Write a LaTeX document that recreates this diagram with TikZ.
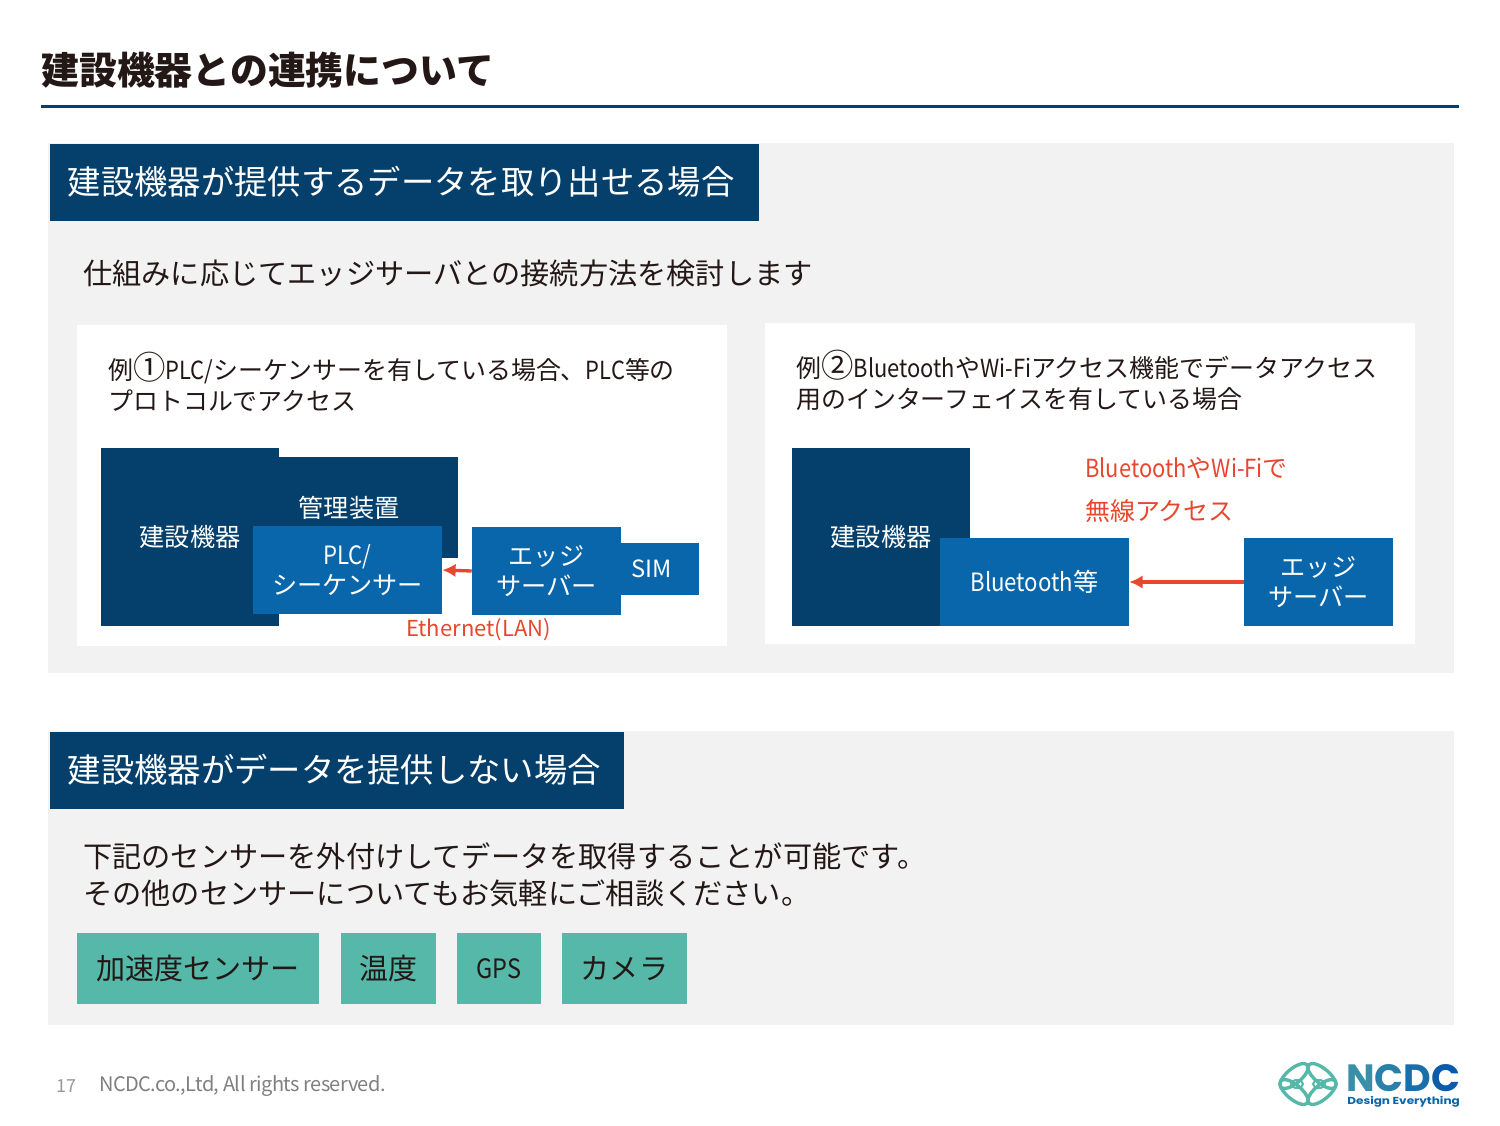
\documentclass[tikz,border=0pt]{standalone}
\usepackage{fontspec}
\usepackage{xcolor}
\setmainfont{Noto Sans CJK JP}
\newfontfamily\logofont{Poppins}
\newfontfamily\latfont{Noto Sans CJK JP}[FakeStretch=0.88]
\newfontfamily\circfont{Noto Sans CJK JP}[Scale=1.3]
\newfontfamily\footfont{Noto Sans CJK JP}[LetterSpace=-3]
\definecolor{navy}{HTML}{04406B}
\definecolor{midblue}{HTML}{0A66AB}
\definecolor{panelgray}{HTML}{F2F2F2}
\definecolor{teal}{HTML}{55B8A8}
\definecolor{alertred}{HTML}{E8472F}
\definecolor{inkdark}{HTML}{231815}
\usetikzlibrary{shapes.geometric,arrows.meta}
\tikzset{
  panel/.style={fill=panelgray,inner sep=0pt},
  card/.style={fill=white,inner sep=0pt,minimum width=487.5pt,minimum height=240.75pt},
  header/.style={fill=navy,text=white,inner sep=0pt,minimum height=57.75pt,font=\fontsize{25}{30}\selectfont},
  darkbox/.style={fill=navy,inner sep=0pt},
  boxlabel/.style={text=white,inner sep=0pt,font=\fontsize{18.9}{22}\selectfont},
  bluebox/.style={fill=midblue,text=white,inner sep=0pt,align=center,font=\fontsize{18.9}{22}\selectfont},
  sensorbox/.style={fill=teal,text=inkdark,inner sep=0pt,minimum height=53.25pt,font=\fontsize{21.8}{26}\selectfont},
  bodytext/.style={anchor=west,inner sep=0pt,align=left,text=inkdark,font=\fontsize{21.9}{27.75}\selectfont},
  smalltext/.style={anchor=west,inner sep=0pt,align=left,text=inkdark,font=\fontsize{18.7}{23.25}\selectfont},
  redtext/.style={anchor=west,inner sep=0pt,text=alertred,font=\fontsize{18.7}{22}\selectfont},
  redarrow/.style={-{Latex[length=10pt,width=10pt]},draw=alertred,line width=2.5pt},
  petal/.style={draw=teal,line width=2.5pt,ellipse,minimum width=26pt,minimum height=11pt,inner sep=0pt},
  seed/.style={draw=teal,line width=1.5pt,ellipse,minimum width=9pt,minimum height=6pt,inner sep=0pt},
}
\begin{document}
\begin{tikzpicture}[x={(0.75pt,0pt)}, y={(0pt,-0.75pt)}]
  \useasboundingbox[fill=white] (0,0) rectangle (1500,1125);

  % Title
  \node[anchor=west,inner sep=0pt,text=inkdark,font=\fontsize{28.4}{32}\bfseries\selectfont] (Title) at (41,70) {建設機器との連携について};
  \coordinate (RuleL) at (41,106);
  \coordinate (RuleR) at (1459,106);
  \draw[navy,line width=2.25pt] (RuleL) -- (RuleR);

  % Panels
  \node[panel,minimum width=1054.5pt,minimum height=397.5pt] (Panel1) at (751,408) {};
  \node[panel,minimum width=1054.5pt,minimum height=220.5pt] (Panel2) at (751,878) {};
  \node[header,minimum width=531.75pt] (Header1) at (404.5,182) {\hspace*{-5pt}建設機器が提供するデータを取り出せる場合};
  \node[header,minimum width=430.5pt] (Header2) at (337,770) {\hspace*{-4pt}建設機器がデータを提供しない場合};

  \node[bodytext] (Intro1) at (83,273) {仕組みに応じてエッジサーバとの接続方法を検討します};
  \node[card] (Card1) at (402,485.5) {};
  \node[card] (Card2) at (1090,483.5) {};

  % Example 1
  \node[smalltext] (Case1) at (108,382) {例{\circfont ①}{\latfont PLC/}シーケンサーを有している場合、{\latfont PLC}等の\\プロトコルでアクセス};
  \node[darkbox,minimum width=133.5pt,minimum height=133.5pt] (Device1) at (190,537) {};
  \node[darkbox,minimum width=134.25pt,minimum height=75.75pt] (Manager) at (368.5,507.5) {};
  \node[boxlabel] (ManagerLabel) at (349,507.5) {管理装置};
  \node[boxlabel] (Device1Label) at (190,536.5) {建設機器};
  \node[bluebox,minimum width=141.75pt,minimum height=66pt] (Plc) at (347.5,570) {{\latfont PLC/}\\シーケンサー};
  \node[bluebox,minimum width=58.5pt,minimum height=39pt] (Sim) at (660,569) {\hspace*{-12pt}{\fontsize{17.8}{22}\selectfont SIM}};
  \node[bluebox,minimum width=111.75pt,minimum height=66pt] (Edge1) at (546.5,571) {エッジ\\サーバー};
  \node[redtext,font=\fontsize{16.5}{22}\selectfont] (Lan) at (406,630) {Ethernet(LAN)};
  \draw[redarrow] (Edge1.180) -- (Plc.0);

  % Example 2
  \node[smalltext] (Case2) at (796,380) {例{\circfont ②}{\latfont Bluetooth}や{\latfont Wi-Fi}アクセス機能でデータアクセス\\用のインターフェイスを有している場合};
  \node[darkbox,minimum width=133.5pt,minimum height=133.5pt] (Device2) at (881,537) {};
  \node[boxlabel] (Device2Label) at (881,536.5) {建設機器};
  \node[bluebox,minimum width=141.75pt,minimum height=66pt] (Bluetooth) at (1034.5,582) {{\latfont Bluetooth}等};
  \node[bluebox,minimum width=111.75pt,minimum height=66pt] (Edge2) at (1318.5,582) {エッジ\\サーバー};
  \node[redtext] (Wireless1) at (1085,468) {{\latfont Bluetooth}や{\latfont Wi-Fi}で};
  \node[redtext] (Wireless2) at (1085,511) {無線アクセス};
  \draw[redarrow] (Edge2.180) -- (Bluetooth.0);

  % Sensors
  \node[bodytext] (Intro2) at (83,875) {下記のセンサーを外付けしてデータを取得することが可能です。\\その他のセンサーについてもお気軽にご相談ください。};
  \node[sensorbox,minimum width=181.5pt] (Sensor1) at (198,968.5) {加速度センサー};
  \node[sensorbox,minimum width=71.25pt] (Sensor2) at (388.5,968.5) {温度};
  \node[sensorbox,minimum width=63pt] (Sensor3) at (499,968.5) {{\latfont\fontsize{20}{26}\selectfont GPS}};
  \node[sensorbox,minimum width=93.75pt] (Sensor4) at (624.5,968.5) {カメラ};

  % Footer
  \node[anchor=west,inner sep=0pt,text=gray!80,font=\fontsize{13.5}{16}\selectfont] (Page) at (56,1086) {17};
  \node[anchor=west,inner sep=0pt,text=gray,font=\footfont\fontsize{15}{18}\selectfont] (Rights) at (99,1086) {NCDC.co.,Ltd, All rights reserved.};

  % Logo
  \node[petal,rotate=-40] (Petal1) at (1322,1076) {};
  \node[petal,rotate=40] (Petal2) at (1294,1076) {};
  \node[petal,rotate=40] (Petal3) at (1322,1092) {};
  \node[petal,rotate=-40] (Petal4) at (1294,1092) {};
  \node[seed] (Seed1) at (1297,1084) {};
  \node[seed] (Seed2) at (1319,1084) {};
  \node[anchor=base west,inner sep=0pt,text depth=0pt,font=\logofont\fontsize{28.5}{30}\bfseries\selectfont] (LogoName) at (1346,1091) {\textcolor[HTML]{3A8FA8}{N}\textcolor[HTML]{2A80A8}{C}\textcolor[HTML]{1A6FA8}{D}\textcolor[HTML]{0B5CA8}{C}};
  \node[anchor=base west,inner sep=0pt,text height=5.5pt,text depth=0pt,xscale=1.19,text=midblue,font=\logofont\fontsize{7.6}{9}\bfseries\selectfont] (LogoTag) at (1347,1104) {Design Everything};
\end{tikzpicture}
\end{document}
